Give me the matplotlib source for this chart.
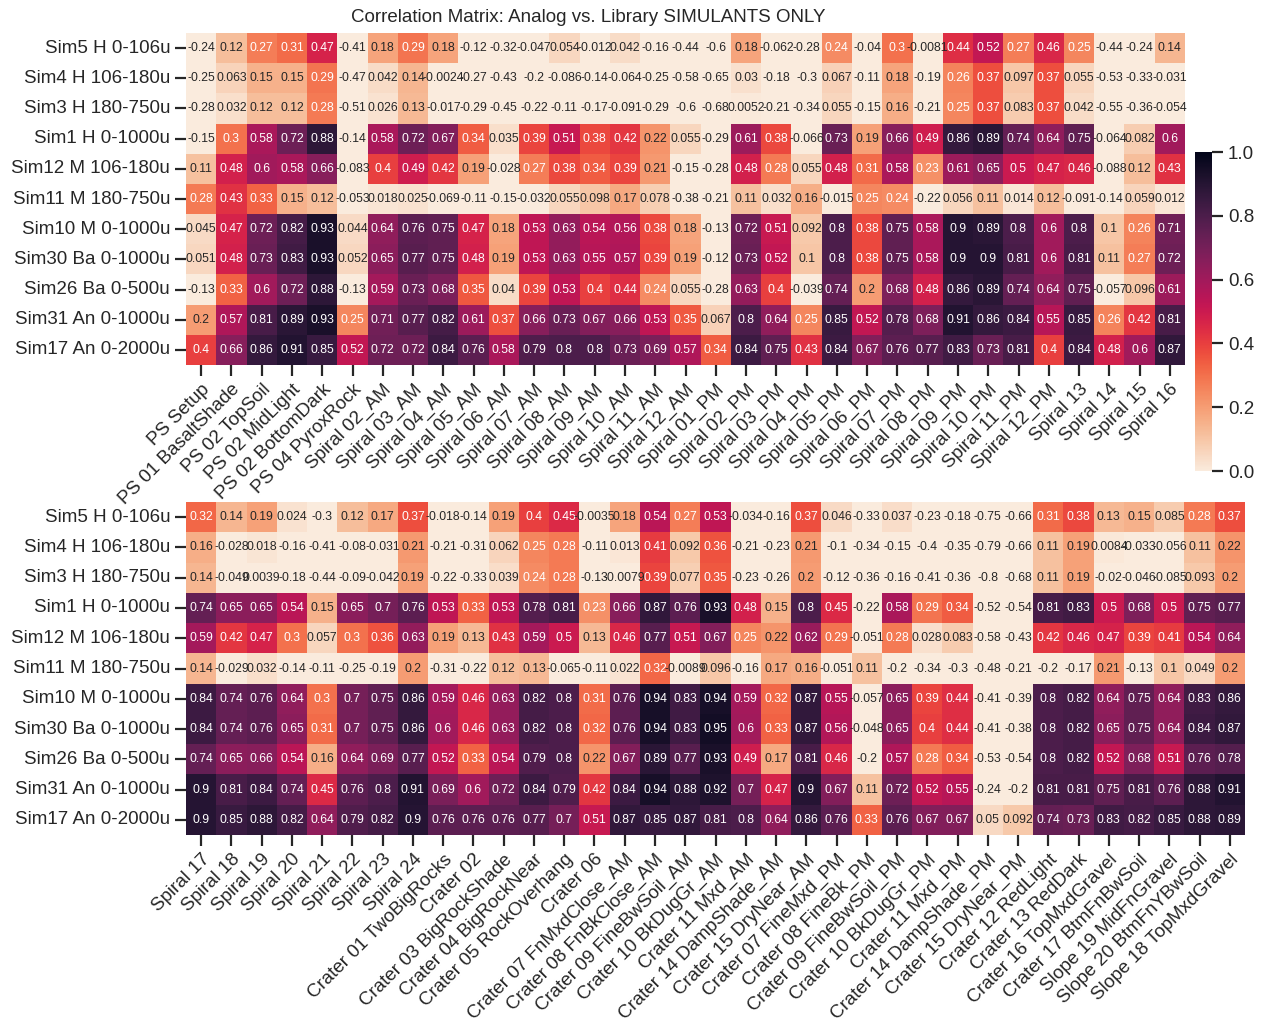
import numpy as np
import pandas as pd
import matplotlib
matplotlib.use("Agg")
import matplotlib.pyplot as plt
import seaborn as sns

# simulant rows shared by both panels
sims = ["Sim5 H 0-106u", "Sim4 H 106-180u", "Sim3 H 180-750u", "Sim1 H 0-1000u",
        "Sim12 M 106-180u", "Sim11 M 180-750u", "Sim10 M 0-1000u", "Sim30 Ba 0-1000u",
        "Sim26 Ba 0-500u", "Sim31 An 0-1000u", "Sim17 An 0-2000u"]

sites_top = ["PS Setup", "PS 01 BasaltShade", "PS 02 TopSoil", "PS 02 MidLight",
             "PS 02 BottomDark", "PS 04 PyroxRock",
             "Spiral 02_AM", "Spiral 03_AM", "Spiral 04_AM", "Spiral 05_AM", "Spiral 06_AM",
             "Spiral 07_AM", "Spiral 08_AM", "Spiral 09_AM", "Spiral 10_AM", "Spiral 11_AM",
             "Spiral 12_AM",
             "Spiral 01_PM", "Spiral 02_PM", "Spiral 03_PM", "Spiral 04_PM", "Spiral 05_PM",
             "Spiral 06_PM", "Spiral 07_PM", "Spiral 08_PM", "Spiral 09_PM", "Spiral 10_PM",
             "Spiral 11_PM", "Spiral 12_PM",
             "Spiral 13", "Spiral 14", "Spiral 15", "Spiral 16"]

sites_bottom = ["Spiral 17", "Spiral 18", "Spiral 19", "Spiral 20", "Spiral 21", "Spiral 22",
                "Spiral 23", "Spiral 24", "Crater 01 TwoBigRocks", "Crater 02",
                "Crater 03 BigRockShade", "Crater 04 BigRockNear", "Crater 05 RockOverhang",
                "Crater 06", "Crater 07 FnMxdClose_AM", "Crater 08 FnBkClose_AM",
                "Crater 09 FineBwSoil_AM", "Crater 10 BkDugGr_AM", "Crater 11 Mxd_AM",
                "Crater 14 DampShade_AM", "Crater 15 DryNear_AM", "Crater 07 FineMxd_PM",
                "Crater 08 FineBk_PM", "Crater 09 FineBwSoil_PM", "Crater 10 BkDugGr_PM",
                "Crater 11 Mxd_PM", "Crater 14 DampShade_PM", "Crater 15 DryNear_PM",
                "Crater 12 RedLight", "Crater 13 RedDark", "Crater 16 TopMxdGravel",
                "Crater 17 BtmFnBwSoil", "Slope 19 MidFnGravel", "Slope 20 BtmFnYBwSoil",
                "Slope 18 TopMxdGravel"]

corr_top = [
    [-0.24, 0.12, 0.27, 0.31, 0.47, -0.41, 0.18, 0.29, 0.18, -0.12, -0.32, -0.047, 0.054, -0.012, 0.042, -0.16, -0.44, -0.6, 0.18, -0.062, -0.28, 0.24, -0.04, 0.3, -0.0081, 0.44, 0.52, 0.27, 0.46, 0.25, -0.44, -0.24, 0.14],
    [-0.25, 0.063, 0.15, 0.15, 0.29, -0.47, 0.042, 0.14, -0.0024, -0.27, -0.43, -0.2, -0.086, -0.14, -0.064, -0.25, -0.58, -0.65, 0.03, -0.18, -0.3, 0.067, -0.11, 0.18, -0.19, 0.26, 0.37, 0.097, 0.37, 0.055, -0.53, -0.33, -0.031],
    [-0.28, 0.032, 0.12, 0.12, 0.28, -0.51, 0.026, 0.13, -0.017, -0.29, -0.45, -0.22, -0.11, -0.17, -0.091, -0.29, -0.6, -0.68, 0.0052, -0.21, -0.34, 0.055, -0.15, 0.16, -0.21, 0.25, 0.37, 0.083, 0.37, 0.042, -0.55, -0.36, -0.054],
    [-0.15, 0.3, 0.58, 0.72, 0.88, -0.14, 0.58, 0.72, 0.67, 0.34, 0.035, 0.39, 0.51, 0.38, 0.42, 0.22, 0.055, -0.29, 0.61, 0.38, -0.066, 0.73, 0.19, 0.66, 0.49, 0.86, 0.89, 0.74, 0.64, 0.75, -0.064, 0.082, 0.6],
    [0.11, 0.48, 0.6, 0.58, 0.66, -0.083, 0.4, 0.49, 0.42, 0.19, -0.028, 0.27, 0.38, 0.34, 0.39, 0.21, -0.15, -0.28, 0.48, 0.28, 0.055, 0.48, 0.31, 0.58, 0.23, 0.61, 0.65, 0.5, 0.47, 0.46, -0.088, 0.12, 0.43],
    [0.28, 0.43, 0.33, 0.15, 0.12, -0.053, 0.018, 0.025, -0.069, -0.11, -0.15, -0.032, 0.055, 0.098, 0.17, 0.078, -0.38, -0.21, 0.11, 0.032, 0.16, -0.015, 0.25, 0.24, -0.22, 0.056, 0.11, 0.014, 0.12, -0.091, -0.14, 0.059, 0.012],
    [0.045, 0.47, 0.72, 0.82, 0.93, 0.044, 0.64, 0.76, 0.75, 0.47, 0.18, 0.53, 0.63, 0.54, 0.56, 0.38, 0.18, -0.13, 0.72, 0.51, 0.092, 0.8, 0.38, 0.75, 0.58, 0.9, 0.89, 0.8, 0.6, 0.8, 0.1, 0.26, 0.71],
    [0.051, 0.48, 0.73, 0.83, 0.93, 0.052, 0.65, 0.77, 0.75, 0.48, 0.19, 0.53, 0.63, 0.55, 0.57, 0.39, 0.19, -0.12, 0.73, 0.52, 0.1, 0.8, 0.38, 0.75, 0.58, 0.9, 0.9, 0.81, 0.6, 0.81, 0.11, 0.27, 0.72],
    [-0.13, 0.33, 0.6, 0.72, 0.88, -0.13, 0.59, 0.73, 0.68, 0.35, 0.04, 0.39, 0.53, 0.4, 0.44, 0.24, 0.055, -0.28, 0.63, 0.4, -0.039, 0.74, 0.2, 0.68, 0.48, 0.86, 0.89, 0.74, 0.64, 0.75, -0.057, 0.096, 0.61],
    [0.2, 0.57, 0.81, 0.89, 0.93, 0.25, 0.71, 0.77, 0.82, 0.61, 0.37, 0.66, 0.73, 0.67, 0.66, 0.53, 0.35, 0.067, 0.8, 0.64, 0.25, 0.85, 0.52, 0.78, 0.68, 0.91, 0.86, 0.84, 0.55, 0.85, 0.26, 0.42, 0.81],
    [0.4, 0.66, 0.86, 0.91, 0.85, 0.52, 0.72, 0.72, 0.84, 0.76, 0.58, 0.79, 0.8, 0.8, 0.73, 0.69, 0.57, 0.34, 0.84, 0.75, 0.43, 0.84, 0.67, 0.76, 0.77, 0.83, 0.73, 0.81, 0.4, 0.84, 0.48, 0.6, 0.87],
]

corr_bottom = [
    [0.32, 0.14, 0.19, 0.024, -0.3, 0.12, 0.17, 0.37, -0.018, -0.14, 0.19, 0.4, 0.45, -0.0035, 0.18, 0.54, 0.27, 0.53, -0.034, -0.16, 0.37, 0.046, -0.33, 0.037, -0.23, -0.18, -0.75, -0.66, 0.31, 0.38, 0.13, 0.15, 0.085, 0.28, 0.37],
    [0.16, -0.028, 0.018, -0.16, -0.41, -0.08, -0.031, 0.21, -0.21, -0.31, 0.062, 0.25, 0.28, -0.11, 0.013, 0.41, 0.092, 0.36, -0.21, -0.23, 0.21, -0.1, -0.34, -0.15, -0.4, -0.35, -0.79, -0.66, 0.11, 0.19, 0.0084, -0.033, -0.056, 0.11, 0.22],
    [0.14, -0.049, 0.0039, -0.18, -0.44, -0.09, -0.042, 0.19, -0.22, -0.33, 0.039, 0.24, 0.28, -0.13, -0.0079, 0.39, 0.077, 0.35, -0.23, -0.26, 0.2, -0.12, -0.36, -0.16, -0.41, -0.36, -0.8, -0.68, 0.11, 0.19, -0.02, -0.046, -0.085, 0.093, 0.2],
    [0.74, 0.65, 0.65, 0.54, 0.15, 0.65, 0.7, 0.76, 0.53, 0.33, 0.53, 0.78, 0.81, 0.23, 0.66, 0.87, 0.76, 0.93, 0.48, 0.15, 0.8, 0.45, -0.22, 0.58, 0.29, 0.34, -0.52, -0.54, 0.81, 0.83, 0.5, 0.68, 0.5, 0.75, 0.77],
    [0.59, 0.42, 0.47, 0.3, 0.057, 0.3, 0.36, 0.63, 0.19, 0.13, 0.43, 0.59, 0.5, 0.13, 0.46, 0.77, 0.51, 0.67, 0.25, 0.22, 0.62, 0.29, -0.051, 0.28, 0.028, 0.083, -0.58, -0.43, 0.42, 0.46, 0.47, 0.39, 0.41, 0.54, 0.64],
    [0.14, -0.029, 0.032, -0.14, -0.11, -0.25, -0.19, 0.2, -0.31, -0.22, 0.12, 0.13, -0.065, -0.11, 0.022, 0.32, -0.0089, 0.096, -0.16, 0.17, 0.16, -0.051, 0.11, -0.2, -0.34, -0.3, -0.48, -0.21, -0.2, -0.17, 0.21, -0.13, 0.1, 0.049, 0.2],
    [0.84, 0.74, 0.76, 0.64, 0.3, 0.7, 0.75, 0.86, 0.59, 0.46, 0.63, 0.82, 0.8, 0.31, 0.76, 0.94, 0.83, 0.94, 0.59, 0.32, 0.87, 0.55, -0.057, 0.65, 0.39, 0.44, -0.41, -0.39, 0.8, 0.82, 0.64, 0.75, 0.64, 0.83, 0.86],
    [0.84, 0.74, 0.76, 0.65, 0.31, 0.7, 0.75, 0.86, 0.6, 0.46, 0.63, 0.82, 0.8, 0.32, 0.76, 0.94, 0.83, 0.95, 0.6, 0.33, 0.87, 0.56, -0.048, 0.65, 0.4, 0.44, -0.41, -0.38, 0.8, 0.82, 0.65, 0.75, 0.64, 0.84, 0.87],
    [0.74, 0.65, 0.66, 0.54, 0.16, 0.64, 0.69, 0.77, 0.52, 0.33, 0.54, 0.79, 0.8, 0.22, 0.67, 0.89, 0.77, 0.93, 0.49, 0.17, 0.81, 0.46, -0.2, 0.57, 0.28, 0.34, -0.53, -0.54, 0.8, 0.82, 0.52, 0.68, 0.51, 0.76, 0.78],
    [0.9, 0.81, 0.84, 0.74, 0.45, 0.76, 0.8, 0.91, 0.69, 0.6, 0.72, 0.84, 0.79, 0.42, 0.84, 0.94, 0.88, 0.92, 0.7, 0.47, 0.9, 0.67, 0.11, 0.72, 0.52, 0.55, -0.24, -0.2, 0.81, 0.81, 0.75, 0.81, 0.76, 0.88, 0.91],
    [0.9, 0.85, 0.88, 0.82, 0.64, 0.79, 0.82, 0.9, 0.76, 0.76, 0.76, 0.77, 0.7, 0.51, 0.87, 0.85, 0.87, 0.81, 0.8, 0.64, 0.86, 0.76, 0.33, 0.76, 0.67, 0.67, 0.05, 0.092, 0.74, 0.73, 0.83, 0.82, 0.85, 0.88, 0.89],
]

sns.set_theme(style="ticks")
plt.rcParams["font.family"] = ["Liberation Sans", "DejaVu Sans"]
plt.rcParams["xtick.major.size"] = 8
plt.rcParams["ytick.major.size"] = 8
plt.rcParams["xtick.major.width"] = 1.6
plt.rcParams["ytick.major.width"] = 1.6

W, H = 1267, 1021
fig = plt.figure(figsize=(W / 100, H / 100), dpi=100)

def px_axes(x0, y0, x1, y1):
    return fig.add_axes([x0 / W, 1 - y1 / H, (x1 - x0) / W, (y1 - y0) / H])

ax1 = px_axes(186, 33, 1185, 365)
ax2 = px_axes(186, 502, 1245, 835)
cax = px_axes(1195, 152, 1212, 471)

df_top = pd.DataFrame(corr_top, index=sims, columns=sites_top)
df_bot = pd.DataFrame(corr_bottom, index=sims, columns=sites_bottom)

annot_kws = {"size": 8.8}
sns.heatmap(df_top, ax=ax1, cmap="rocket_r", vmin=0, vmax=1, annot=True,
            annot_kws=annot_kws, cbar_ax=cax)
sns.heatmap(df_bot, ax=ax2, cmap="rocket_r", vmin=0, vmax=1, annot=True,
            annot_kws=annot_kws, cbar=False)

for ax, cols in ((ax1, sites_top), (ax2, sites_bottom)):
    ax.set_xticklabels(cols, rotation=45, ha="right", rotation_mode="anchor",
                       fontsize=13.5)
    ax.set_yticklabels(sims, rotation=0, fontsize=13.5)
    ax.set_xlabel("")
    ax.set_ylabel("")

cax.tick_params(labelsize=13.5, length=8, width=1.6)
cax.set_yticks([0, 0.2, 0.4, 0.6, 0.8, 1.0])
cax.set_yticklabels(["0.0", "0.2", "0.4", "0.6", "0.8", "1.0"])

fig.text(588 / W, 1 - 18 / H, "Correlation Matrix: Analog vs. Library SIMULANTS ONLY",
         ha="center", va="center", fontsize=13.5)

fig.savefig("out.png", dpi=100)
